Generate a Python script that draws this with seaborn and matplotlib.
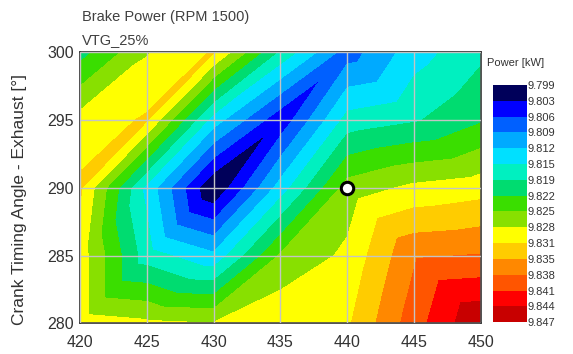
import numpy as np
import matplotlib
matplotlib.use('Agg')
import matplotlib.pyplot as plt
import matplotlib.tri as mtri
import seaborn as sns

# grid nodes (exhaust timing vs intake timing)
x_vals = [420, 425, 430, 435, 440, 445, 450]
y_vals = [280, 285, 290, 295, 300]

# brake power [kW] per row of constant y
power_280 = [9.8299, 9.8289, 9.8283, 9.8309, 9.8309, 9.8396, 9.8472]
power_285 = [9.8299, 9.8169, 9.8129, 9.8254, 9.8289, 9.8374, 9.8380]
power_290 = [9.8320, 9.8145, 9.7994, 9.8136, 9.8264, 9.8289, 9.8300]
power_295 = [9.8294, 9.8318, 9.8139, 9.8034, 9.8166, 9.8182, 9.8214]
power_300 = [9.8204, 9.8279, 9.8317, 9.8179, 9.8074, 9.8139, 9.8179]

band_colors = ['#00005a', '#0000ff', '#0060ff', '#00aaff', '#00e0ff',
               '#00f0c0', '#00dc70', '#3ade00', '#88e000', '#ffff00',
               '#ffcc00', '#ff8800', '#ff5500', '#ff0000', '#c80000']
cbar_labels = ['9.799', '9.803', '9.806', '9.809', '9.812', '9.815', '9.819', '9.822',
               '9.825', '9.828', '9.831', '9.835', '9.838', '9.841', '9.844', '9.847']
x_ticks = [420, 425, 430, 435, 440, 445, 450]
y_ticks = [280, 285, 290, 295, 300]

# operating point marker
point_x = [440]
point_y = [290]

sns.set_theme(style='white')
plt.rcParams['font.family'] = ['Liberation Sans', 'DejaVu Sans']

fig = plt.figure(figsize=(5.73, 3.54), dpi=100)
ax = fig.add_axes([0.139, 0.0862, 0.701, 0.767])

levels = np.linspace(9.7994, 9.8474, len(band_colors) + 1)

gx, gy = np.meshgrid(x_vals, y_vals)
z = np.array([power_280, power_285, power_290, power_295, power_300])

# split each grid cell into two triangles (diagonal direction as in the original)
nx = len(x_vals)
triangles = []
for j in range(len(y_vals) - 1):
    for i in range(nx - 1):
        bl = j * nx + i
        br = bl + 1
        tl = bl + nx
        tr = tl + 1
        if x_vals[i] >= 440:
            triangles += [[bl, br, tl], [br, tr, tl]]
        else:
            triangles += [[bl, br, tr], [bl, tr, tl]]
tri = mtri.Triangulation(gx.ravel(), gy.ravel(), triangles)

cs = ax.tricontourf(tri, z.ravel(), levels=levels, colors=band_colors)

sns.scatterplot(x=point_x, y=point_y, s=80, color='white', edgecolor='black',
                linewidth=2.2, zorder=5, ax=ax, legend=False)

ax.set_xlim(420, 450)
ax.set_ylim(280, 300)
ax.set_xticks(x_ticks)
ax.set_yticks(y_ticks)
ax.set_axisbelow(False)
ax.grid(True, color='#c4c4c4', linewidth=1.0)
ax.tick_params(axis='both', labelsize=11.5, colors='#333333')
ax.tick_params(axis='y', direction='in', length=5, width=1.2, color='black', pad=4)
ax.tick_params(axis='x', length=0, pad=8)
for sp in ax.spines.values():
    sp.set_color('#333333')
    sp.set_linewidth(1.2)
ax.set_ylabel('Crank Timing Angle - Exhaust [°]', fontsize=12.5, color='#333333')
ax.yaxis.set_label_coords(-0.131, 0.455)

fig.text(0.143, 0.952, 'Brake Power (RPM 1500)', fontsize=10.5, color='#404040', va='center')
fig.text(0.143, 0.887, 'VTG_25%', fontsize=10.5, color='#404040', va='center')

# discrete colour bar, min at the top
cax = fig.add_axes([0.860, 0.090, 0.059, 0.670])
cb = fig.colorbar(cs, cax=cax)
cb.set_ticks(levels)
cb.set_ticklabels(cbar_labels)
cax.invert_yaxis()
cb.outline.set_visible(False)
cax.tick_params(length=0, labelsize=8, pad=1, colors='#333333')
fig.text(0.850, 0.822, 'Power [kW]', fontsize=8, color='#333333', va='center')

fig.savefig('out.png', dpi=100)
